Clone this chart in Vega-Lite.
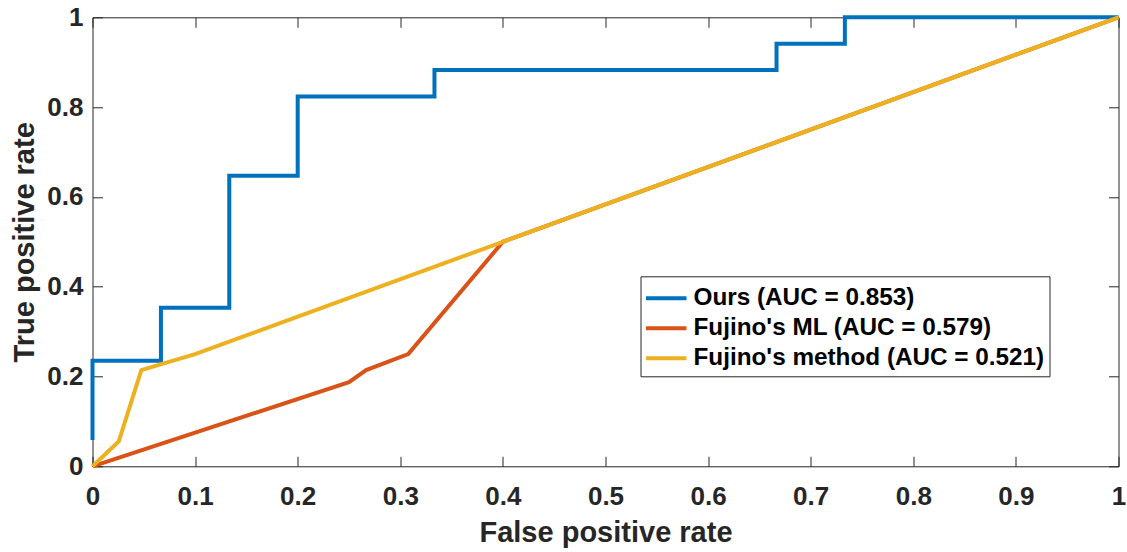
{
  "$schema": "https://vega.github.io/schema/vega-lite/v6.json",
  "width": 1026,
  "height": 449,
  "autosize": {"type": "none"},
  "padding": {"left": 92.5, "top": 17.3, "right": 8.5, "bottom": 85.7},
  "background": "white",
  "config": {
    "view": {"stroke": "#262626", "strokeWidth": 1},
    "axis": {
      "domain": false,
      "grid": false,
      "tickColor": "#262626",
      "tickWidth": 1,
      "tickSize": -10,
      "labelFont": "Liberation Sans",
      "labelFontWeight": "bold",
      "labelFontSize": 26,
      "labelColor": "#262626",
      "labelFlush": false,
      "labelOverlap": false,
      "titleFont": "Liberation Sans",
      "titleFontWeight": "bold",
      "titleFontSize": 29,
      "titleColor": "#262626"
    }
  },
  "data": {
    "values": [
      {"series": "Ours (AUC = 0.853)", "order": 1, "x": 0, "y": 0.0588},
      {"series": "Ours (AUC = 0.853)", "order": 2, "x": 0, "y": 0.2353},
      {"series": "Ours (AUC = 0.853)", "order": 3, "x": 0.0667, "y": 0.2353},
      {"series": "Ours (AUC = 0.853)", "order": 4, "x": 0.0667, "y": 0.3529},
      {"series": "Ours (AUC = 0.853)", "order": 5, "x": 0.1333, "y": 0.3529},
      {"series": "Ours (AUC = 0.853)", "order": 6, "x": 0.1333, "y": 0.6471},
      {"series": "Ours (AUC = 0.853)", "order": 7, "x": 0.2, "y": 0.6471},
      {"series": "Ours (AUC = 0.853)", "order": 8, "x": 0.2, "y": 0.8235},
      {"series": "Ours (AUC = 0.853)", "order": 9, "x": 0.3333, "y": 0.8235},
      {"series": "Ours (AUC = 0.853)", "order": 10, "x": 0.3333, "y": 0.8824},
      {"series": "Ours (AUC = 0.853)", "order": 11, "x": 0.6667, "y": 0.8824},
      {"series": "Ours (AUC = 0.853)", "order": 12, "x": 0.6667, "y": 0.9412},
      {"series": "Ours (AUC = 0.853)", "order": 13, "x": 0.7333, "y": 0.9412},
      {"series": "Ours (AUC = 0.853)", "order": 14, "x": 0.7333, "y": 1},
      {"series": "Ours (AUC = 0.853)", "order": 15, "x": 1, "y": 1},
      {"series": "Fujino's ML (AUC = 0.579)", "order": 1, "x": 0, "y": 0},
      {"series": "Fujino's ML (AUC = 0.579)", "order": 2, "x": 0.25, "y": 0.1875},
      {"series": "Fujino's ML (AUC = 0.579)", "order": 3, "x": 0.2667, "y": 0.2143},
      {"series": "Fujino's ML (AUC = 0.579)", "order": 4, "x": 0.3077, "y": 0.25},
      {"series": "Fujino's ML (AUC = 0.579)", "order": 5, "x": 0.4, "y": 0.5},
      {"series": "Fujino's ML (AUC = 0.579)", "order": 6, "x": 1, "y": 1},
      {"series": "Fujino's method (AUC = 0.521)", "order": 1, "x": 0, "y": 0},
      {"series": "Fujino's method (AUC = 0.521)", "order": 2, "x": 0.0256, "y": 0.0556},
      {"series": "Fujino's method (AUC = 0.521)", "order": 3, "x": 0.0476, "y": 0.2143},
      {"series": "Fujino's method (AUC = 0.521)", "order": 4, "x": 0.1, "y": 0.25},
      {"series": "Fujino's method (AUC = 0.521)", "order": 5, "x": 0.4, "y": 0.5},
      {"series": "Fujino's method (AUC = 0.521)", "order": 6, "x": 1, "y": 1}
    ]
  },
  "layer": [
    {
      "mark": {"type": "line", "strokeWidth": 4},
      "encoding": {
        "x": {
          "field": "x", "type": "quantitative",
          "scale": {"domain": [0, 1], "nice": false, "zero": false},
          "axis": {
            "orient": "bottom",
            "values": [0, 0.1, 0.2, 0.3, 0.4, 0.5, 0.6, 0.7, 0.8, 0.9, 1],
            "format": "~g",
            "labelPadding": 27,
            "title": "False positive rate",
            "titleBaseline": "alphabetic",
            "titleY": 75
          }
        },
        "y": {
          "field": "y", "type": "quantitative",
          "scale": {"domain": [0, 1], "nice": false, "zero": false},
          "axis": {
            "orient": "left",
            "values": [0, 0.2, 0.4, 0.6, 0.8, 1],
            "format": "~g",
            "labelPadding": 19.5,
            "title": "True positive rate",
            "titleBaseline": "alphabetic",
            "titleAngle": -90,
            "titleX": -59
          }
        },
        "color": {
          "field": "series", "type": "nominal",
          "scale": {
            "domain": ["Ours (AUC = 0.853)", "Fujino's ML (AUC = 0.579)", "Fujino's method (AUC = 0.521)"],
            "range": ["#0072BD", "#D95319", "#EDB120"]
          },
          "legend": {
            "orient": "none",
            "legendX": 548,
            "legendY": 259,
            "title": null,
            "strokeColor": "#262626",
            "fillColor": "white",
            "padding": 5,
            "rowPadding": 0,
            "symbolType": "M-1.1,0H1.6",
            "symbolSize": 900,
            "symbolStrokeWidth": 4,
            "labelFont": "Liberation Sans",
            "labelFontWeight": "bold",
            "labelFontSize": 24.3,
            "labelColor": "#000000",
            "labelOffset": 14,
            "labelLimit": 600
          }
        },
        "order": {"field": "order", "type": "quantitative"}
      }
    },
    {
      "mark": {"type": "point", "opacity": 0},
      "encoding": {
        "x": {
          "field": "x", "type": "quantitative",
          "axis": {
            "orient": "top",
            "values": [0, 0.1, 0.2, 0.3, 0.4, 0.5, 0.6, 0.7, 0.8, 0.9, 1],
            "labels": false,
            "title": null
          }
        },
        "y": {
          "field": "y", "type": "quantitative",
          "axis": {
            "orient": "right",
            "values": [0, 0.2, 0.4, 0.6, 0.8, 1],
            "labels": false,
            "title": null
          }
        }
      }
    }
  ],
  "resolve": {"axis": {"x": "independent", "y": "independent"}}
}
